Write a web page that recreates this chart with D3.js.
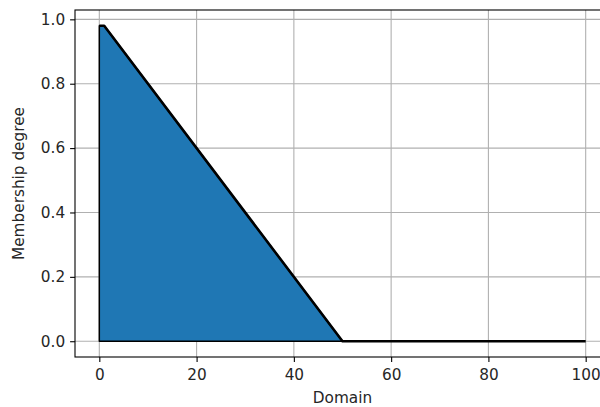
<!DOCTYPE html>
<html>
<head>
<meta charset="utf-8">
<script src="https://cdn.jsdelivr.net/npm/d3@7"></script>
<style>
  html, body { margin: 0; padding: 0; background: #fff; }
  svg { display: block; }
  text { font-family: "DejaVu Sans", sans-serif; fill: #262626; }
</style>
</head>
<body>
<svg id="chart" width="600" height="407"></svg>
<script>
// Membership function outline (domain value, membership degree)
const domainPoints = [0, 0, 1, 50, 100];
const membership   = [0, 0.98, 0.98, 0, 0];

const xTicks = [0, 20, 40, 60, 80, 100];
const yTicks = [0.0, 0.2, 0.4, 0.6, 0.8, 1.0];
const xLabel = "Domain";
const yLabel = "Membership degree";

const FONT = 15.3;
const plot = { left: 75, top: 10, right: 610, bottom: 357 };

const svg = d3.select("#chart");

// 5% padding around the data extent on both axes
function padded(values) {
  const [lo, hi] = d3.extent(values);
  const m = (hi - lo) * 0.05;
  return [lo - m, hi + m];
}

const x = d3.scaleLinear().domain(padded(domainPoints)).range([plot.left, plot.right]);
const y = d3.scaleLinear().domain(padded(membership)).range([plot.bottom, plot.top]);

svg.append("defs").append("clipPath").attr("id", "plotclip")
  .append("rect")
  .attr("x", plot.left).attr("y", plot.top)
  .attr("width", plot.right - plot.left).attr("height", plot.bottom - plot.top);

// grid
const grid = svg.append("g").attr("clip-path", "url(#plotclip)");
grid.selectAll("line.gx").data(xTicks).join("line")
  .attr("x1", d => x(d)).attr("x2", d => x(d))
  .attr("y1", plot.top).attr("y2", plot.bottom)
  .attr("stroke", "#b0b0b0").attr("stroke-width", 1.1);
grid.selectAll("line.gy").data(yTicks).join("line")
  .attr("y1", d => y(d)).attr("y2", d => y(d))
  .attr("x1", plot.left).attr("x2", plot.right)
  .attr("stroke", "#b0b0b0").attr("stroke-width", 1.1);

const pts = domainPoints.map((d, i) => [d, membership[i]]);

// filled area (up to where the membership falls back to zero)
const fillEnd = membership.indexOf(0, 1);
const fillPts = pts.slice(0, fillEnd + 1);
const line = d3.line().x(d => x(d[0])).y(d => y(d[1]));

const marks = svg.append("g").attr("clip-path", "url(#plotclip)");
marks.append("path")
  .attr("d", line(fillPts) + "Z")
  .attr("fill", "#1f77b4")
  .attr("stroke", "#000")
  .attr("stroke-width", 1.5)
  .attr("stroke-linejoin", "round");

marks.append("path")
  .attr("d", line(pts.slice(1)))
  .attr("fill", "none")
  .attr("stroke", "#000")
  .attr("stroke-width", 2.6)
  .attr("stroke-linejoin", "round")
  .attr("stroke-linecap", "butt");

// axes
const xAxis = d3.axisBottom(x).tickValues(xTicks).tickSize(4.9).tickPadding(7.5)
  .tickFormat(d3.format("d"));
const yAxis = d3.axisLeft(y).tickValues(yTicks).tickSize(4.9).tickPadding(5)
  .tickFormat(d3.format(".1f"));

const gx = svg.append("g").attr("transform", `translate(0,${plot.bottom})`).call(xAxis);
const gy = svg.append("g").attr("transform", `translate(${plot.left},0)`).call(yAxis);

[gx, gy].forEach(g => {
  g.select(".domain").remove();
  g.selectAll(".tick line").attr("stroke", "#000").attr("stroke-width", 1.1);
  g.selectAll(".tick text")
    .attr("font-family", "DejaVu Sans, sans-serif")
    .attr("font-size", FONT)
    .attr("fill", "#262626");
});

// spines
svg.append("rect")
  .attr("x", plot.left).attr("y", plot.top)
  .attr("width", plot.right - plot.left).attr("height", plot.bottom - plot.top)
  .attr("fill", "none").attr("stroke", "#000").attr("stroke-width", 1.1);

// axis titles
svg.append("text")
  .attr("x", (plot.left + plot.right) / 2).attr("y", 403)
  .attr("text-anchor", "middle").attr("font-size", FONT)
  .text(xLabel);

svg.append("text")
  .attr("transform", `translate(24,${(plot.top + plot.bottom) / 2}) rotate(-90)`)
  .attr("text-anchor", "middle").attr("font-size", FONT)
  .text(yLabel);
</script>
</body>
</html>
